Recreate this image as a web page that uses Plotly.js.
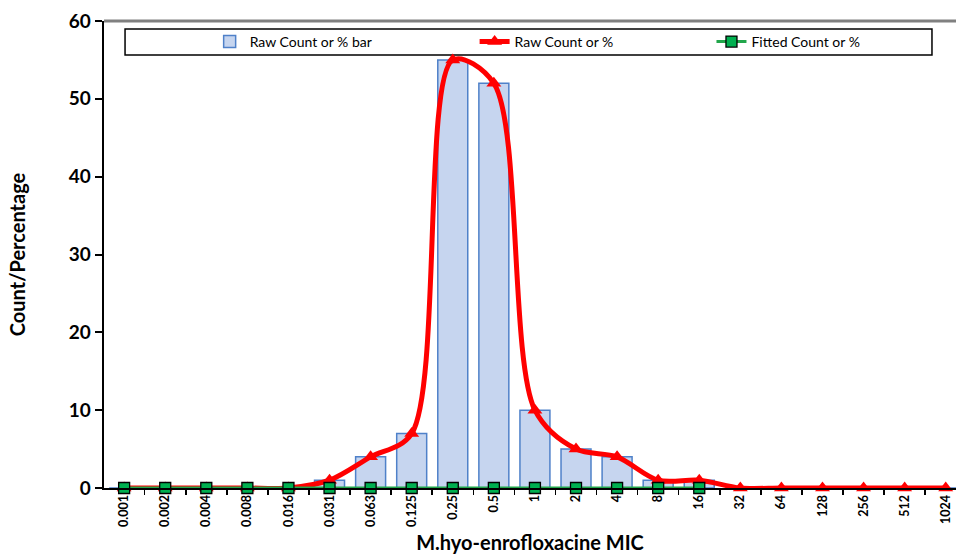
<!DOCTYPE html>
<html>
<head>
<meta charset="utf-8">
<script src="https://cdn.plot.ly/plotly-3.0.1.min.js"></script>
<style>html,body{margin:0;padding:0;background:#fff;}#chart{width:956px;height:554px;}</style>
</head>
<body>
<div id="chart"></div>
<script>
const micLabels = ["0.001","0.002","0.004","0.008","0.016","0.031","0.063","0.125","0.25","0.5","1","2","4","8","16","32","64","128","256","512","1024"];
const barValues = [0,0,0,0,0,1,4,7,55,52,10,5,4,1,1,0,0,0,0,0,0];
const rawValues = [0,0,0,0,0,1,4,7,55,52,10,5,4,1,1,0,0,0,0,0,0];
const fittedValues = [0,0,0,0,0,0,0,0,0,0,0,0,0,0,0,null,null,null,null,null,null];

const FONT = "Lato, 'Noto Sans', sans-serif";

const traces = [
  {
    type: 'bar', name: 'Raw Count or % bar', x: micLabels, y: barValues,
    marker: {color: '#c6d5ef', line: {color: '#4f81c9', width: 1.5}},
    legend: 'legend', hoverinfo: 'skip'
  },
  {
    type: 'scatter', mode: 'lines+markers', name: 'Raw Count or %', x: micLabels, y: rawValues,
    line: {color: '#ff0000', width: 5, shape: 'spline', smoothing: 0.9},
    marker: {symbol: 'triangle-up', size: 13, color: '#ff0000'},
    legend: 'legend2', cliponaxis: false, hoverinfo: 'skip'
  },
  {
    type: 'scatter', mode: 'lines+markers', name: 'Fitted Count or %', x: micLabels, y: fittedValues,
    line: {color: '#22a64b', width: 3},
    marker: {symbol: 'square', size: 11, color: '#00b050', line: {color: '#000', width: 1.3}},
    legend: 'legend3', cliponaxis: false, hoverinfo: 'skip'
  }
];

function legendAt(xp) {
  return {
    orientation: 'h', x: xp, xanchor: 'left', y: 0.955, yanchor: 'middle',
    borderwidth: 0, bgcolor: 'rgba(0,0,0,0)',
    font: {family: FONT, size: 14, color: '#000'}
  };
}

const layout = {
  width: 956, height: 554,
  margin: {l: 104, r: 0, t: 21, b: 66, autoexpand: false},
  paper_bgcolor: '#fff', plot_bgcolor: '#fff',
  font: {family: FONT, color: '#000'},
  showlegend: true,
  bargap: 0.27,
  legend: legendAt(0.124),
  legend2: legendAt(0.435),
  legend3: legendAt(0.713),
  xaxis: {
    type: 'category', range: [-0.49, 20.25],
    showline: true, linecolor: '#000', linewidth: 2,
    ticks: 'outside', ticklen: 5, tickwidth: 1.5, tickcolor: '#000', tickson: 'boundaries',
    tickangle: -90, tickfont: {family: FONT, size: 12.5, color: '#000', weight: 'bold'},
    showgrid: false, zeroline: false,
    title: {text: 'M.hyo-enrofloxacine MIC', font: {family: FONT, size: 20, color: '#000', weight: 'bold'}, standoff: 10}
  },
  yaxis: {
    range: [0, 60], dtick: 10,
    showline: true, linecolor: '#000', linewidth: 2.5,
    ticks: 'outside', ticklen: 7, tickwidth: 2, tickcolor: '#000',
    tickfont: {family: FONT, size: 19, color: '#000', weight: 'bold'},
    showgrid: false, zeroline: false,
    title: {text: 'Count/Percentage', font: {family: FONT, size: 20, color: '#000', weight: 'bold'}, standoff: 38}
  },
  shapes: [
    {type: 'line', xref: 'paper', yref: 'paper', x0: 0, x1: 1, y0: 1, y1: 1, line: {color: '#808080', width: 3}},
    {type: 'rect', xref: 'paper', yref: 'paper', x0: 0.0247, x1: 0.9718, y0: 0.927, y1: 0.983,
     line: {color: '#000', width: 1.5}, fillcolor: 'rgba(0,0,0,0)', layer: 'below'}
  ]
};

Plotly.newPlot('chart', traces, layout, {displayModeBar: false, staticPlot: true});
</script>
</body>
</html>
